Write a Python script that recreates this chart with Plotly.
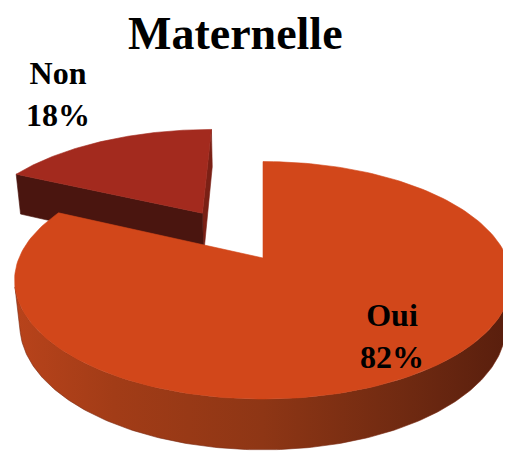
import numpy as np
import plotly.graph_objects as go

# ---------------- data ----------------
chart_title = "Maternelle"
categories = ["Non", "Oui"]
values = [18, 82]

# ---------------- style ----------------
W, H = 511, 452
OFF = 8  # page body margin of the html page (px)
top_colors = {"Non": "#A32A1E", "Oui": "#D2471A"}
cut_colors = {"Non": "#4A150F", "Oui": "#7A2A12"}
side_colors = {"Non": "#7A2015", "Oui": "#7A2A12"}
wall_scale = [[0.0, "#B8431B"], [0.2, "#A23C17"], [0.5, "#8E3615"],
              [0.8, "#6E2911"], [1.0, "#581E0D"]]
font_family = "Liberation Serif"

# 3-D projection parameters (view of a tilted disc, with perspective)
cx, cy = 263.0, 258.0      # pixel position of the pie centre
S = 244.0                  # pixel radius scale
phi = np.radians(28.0)     # tilt
D = 4.7                    # camera distance
h = 0.21                   # thickness of the disc
pulls = {"Non": 0.50, "Oui": 0.0}
label_pos = {"Non": (58, 94), "Oui": (392, 336)}


def proj(X, Y, Z):
    X, Y, Z = np.asarray(X, float), np.asarray(Y, float), np.asarray(Z, float)
    v = Y * np.sin(phi) + Z * np.cos(phi)
    w = Y * np.cos(phi) - Z * np.sin(phi)
    f = D / (D + w)
    return cx + S * X * f, cy - S * v * f


def poly(fig, xs, ys, color, name, gradient=None):
    xs = list(xs) + [xs[0]]
    ys = list(ys) + [ys[0]]
    kw = dict(x=xs, y=ys, mode="lines", fill="toself", name=name,
              line=dict(color=color, width=0.6), hoverinfo="name",
              showlegend=False)
    if gradient is not None:
        kw["fillgradient"] = dict(type="horizontal", colorscale=gradient)
    else:
        kw["fillcolor"] = color
    fig.add_trace(go.Scatter(**kw))


fig = go.Figure()

total = float(sum(values))
start = 90.0
slices = []
for cat, val in zip(categories, values):
    span = 360.0 * val / total
    slices.append((cat, val, start, start + span))
    start += span

for cat, val, a0, a1 in slices:
    mid = np.radians((a0 + a1) / 2)
    p = pulls[cat]
    ox, oy = p * np.cos(mid), p * np.sin(mid)
    th = np.radians(np.linspace(a0, a1, 200))
    rx, ry = ox + np.cos(th), oy + np.sin(th)

    # cut faces of the pulled slice
    if cat == "Non":
        t0, t1 = np.radians(a0), np.radians(a1)
        for t, col in ((t0, side_colors[cat]), (t1, cut_colors[cat])):
            X = [ox, ox + np.cos(t), ox + np.cos(t), ox]
            Y = [oy, oy + np.sin(t), oy + np.sin(t), oy]
            Z = [0, 0, -h, -h]
            px, py = proj(X, Y, Z)
            poly(fig, px, py, col, cat)

    # outer wall: visible part of the rim (facing the camera)
    lim = np.degrees(np.arcsin(-1.0 / (D * np.cos(phi))))
    lo, hi = 180.0 - lim, 360.0 + lim
    segs = []
    for k in (-360.0, 0.0, 360.0):
        s0, s1 = max(a0, lo + k), min(a1, hi + k)
        if s1 > s0:
            segs.append((s0, s1))
    for s0, s1 in segs:
        tw = np.radians(np.linspace(s0, s1, 200))
        X = np.concatenate([ox + np.cos(tw), (ox + np.cos(tw))[::-1]])
        Y = np.concatenate([oy + np.sin(tw), (oy + np.sin(tw))[::-1]])
        Z = np.concatenate([np.zeros_like(tw), -h * np.ones_like(tw)])
        px, py = proj(X, Y, Z)
        poly(fig, px, py, cut_colors[cat], cat, gradient=wall_scale)

    # top face
    X = np.concatenate([[ox], rx])
    Y = np.concatenate([[oy], ry])
    px, py = proj(X, Y, np.zeros_like(X))
    poly(fig, px, py, top_colors[cat], cat)

    lx, ly = label_pos[cat]
    pct = 100.0 * val / total
    fig.add_annotation(x=lx, y=ly, xref="x", yref="y", showarrow=False,
                       text=f"<b>{cat}<br>{pct:.0f}%</b>",
                       font=dict(family=font_family, size=32, color="#000000"),
                       align="center")

fig.add_annotation(x=235, y=33, xref="x", yref="y", showarrow=False,
                   text=f"<b>{chart_title}</b>",
                   font=dict(family=font_family, size=46, color="#000000"))

fig.update_layout(
    width=W, height=H, margin=dict(l=0, r=0, t=0, b=0),
    paper_bgcolor="white", plot_bgcolor="white",
    xaxis=dict(range=[OFF, W + OFF], visible=False, fixedrange=True),
    yaxis=dict(range=[H + OFF, OFF], visible=False, fixedrange=True),
    showlegend=False,
)

fig.write_html("out.html")
